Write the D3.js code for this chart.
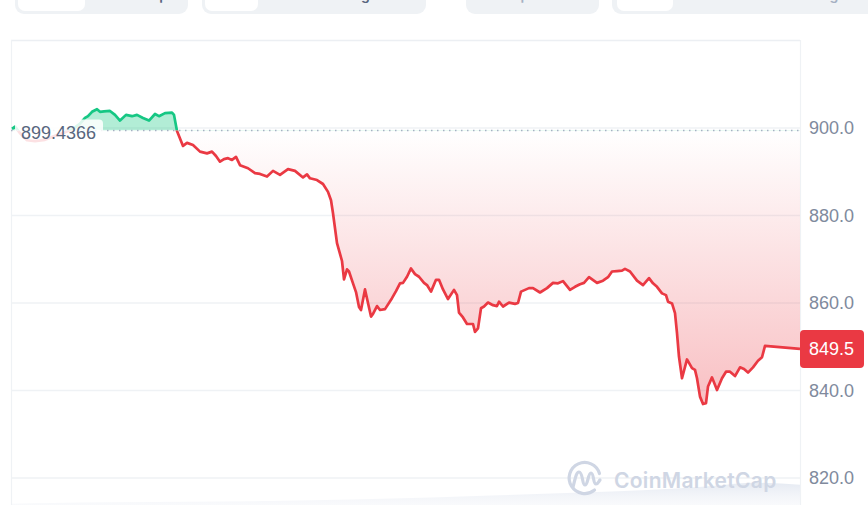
<!DOCTYPE html>
<html><head><meta charset="utf-8">
<script src="https://cdn.jsdelivr.net/npm/d3@7"></script>
<style>
html,body{margin:0;padding:0;background:#fff;overflow:hidden}
svg{display:block}
</style>
</head><body>
<svg id="c" width="868" height="505"></svg>
<script>
// ---- data ----
const steps = [
  0,3,8,15,23,33,43,53,61,68,
  73,76,80,85,88,92,98,103,108,114,
  120,125,131,137,143,147,153,160,162,165,
  171,175,181,188,195,200,204,208,212,216,
  220,224,228,236,243,248,255,261,268,276,
  283,291,295,298,305,311,316,319,321,325,
  330,332,335,337,341,344,347,349,353,359,
  361,365,368,373,380,384,388,391,395,399,
  403,407,412,415,419,424,427,431,436,442,
  445,447,451,455,461,463,466,469,472,476,
  481,485,487,491,497,503,506,509,513,517,
  521,528,535,541,546,551,558,563,568,572,
  577,585,591,596,600,605,610,613,618,625,
  631,637,641,645,650,654,656,660,663,665,
  667,670,675,680,683,685,688,691,694,696,
  700,705,710,714,718,723,728,732,736,741,
  746,750,753,788
];
const prices = [
  899.8,900.3,898.8,897.2,897.0,897.3,898.2,899.0,899.8,901.0,
  902.3,902.7,903.7,904.3,903.7,903.8,903.9,903.0,901.7,903.0,
  902.7,903.0,902.3,901.7,903.2,902.7,903.4,903.5,903.0,899.3,
  895.9,896.6,896.1,894.6,894.2,894.6,893.6,892.3,892.9,893.1,
  892.7,893.4,891.5,890.8,889.7,889.5,888.9,890.2,889.3,890.6,
  890.2,888.7,889.4,888.5,888.1,887.2,885.4,883.5,880.5,873.7,
  869.6,865.4,867.7,867.2,864.5,862.5,859.1,858.4,863.1,856.9,
  857.5,859.3,858.4,858.6,861.1,862.7,864.5,864.6,866.0,867.9,
  866.6,866.0,864.6,864.1,862.6,865.3,865.3,863.1,860.9,863.0,
  861.8,857.8,856.7,855.2,855.2,853.4,854.2,858.8,859.2,860.1,
  859.5,859.3,860.3,859.2,860.1,859.8,860.0,862.6,863.0,863.4,
  863.4,862.4,863.4,864.6,864.5,865.0,863.0,863.7,864.3,864.6,
  865.9,864.6,865.1,865.9,867.2,867.3,867.4,867.8,867.2,865.1,
  864.1,865.7,864.5,863.7,862.2,861.8,860.3,859.9,857.7,853.1,
  847.7,842.8,847.1,845.1,844.7,842.8,838.6,836.9,837.1,840.9,
  843.0,840.1,842.8,844.3,844.3,843.3,845.3,844.9,844.1,845.3,
  846.8,847.6,850.2,849.5
];
const openPrice = 899.4366;
const lastPrice = 849.5;
const yTicks = [900, 880, 860, 840, 820];
const volSteps = [0, 40, 100, 180, 260, 340, 420, 480, 540, 600, 660, 700, 740, 788];
const volumes  = [2, 3, 4, 5, 6, 8, 11, 14, 17, 20, 24, 28, 33, 30];
const tabLabels = ["Market cap", "TradingView", "Compare", "Log"];

// ---- layout ----
const svg = d3.select("#c");
const W = 868, H = 505;
const plot = {left: 11, right: 800, top: 40, bottom: 505};
const x = d3.scaleLinear().domain([0, 788]).range([12, 800]);
const y = d3.scaleLinear().domain([820, 900]).range([478, 128]);
const RED = "#ea3943", GREEN = "#16c784";
const AXFONT = "'Liberation Sans', Arial, sans-serif";

// ---- top tab bar (cut off at the top edge, as in the reference) ----
const tabs = [
  {x0: 15, x1: 188, p0: 18, p1: 85, tx: 168, anchor: "end", col: "#58667e"},
  {x0: 202, x1: 426, p0: 205, p1: 258, tx: 318, anchor: "start", col: "#58667e"},
  {x0: 466, x1: 599, p0: null, p1: null, tx: 489, anchor: "start", col: "#a6b0c3"},
  {x0: 612, x1: 880, p0: 617, p1: 673, tx: 813, anchor: "start", col: "#a6b0c3"}
];
const tg = svg.append("g");
tabs.forEach((t, i) => {
  tg.append("rect").attr("x", t.x0).attr("y", -12).attr("width", t.x1 - t.x0).attr("height", 26)
    .attr("rx", 9).attr("fill", "#eff2f5");
  if (t.p0 !== null) {
    tg.append("rect").attr("x", t.p0).attr("y", -12).attr("width", t.p1 - t.p0).attr("height", 23)
      .attr("rx", 7).attr("fill", "#ffffff");
  }
  tg.append("text").attr("x", t.tx).attr("y", -0.5).attr("text-anchor", t.anchor)
    .attr("font-family", "Inter, sans-serif").attr("font-size", 14).attr("font-weight", 600)
    .attr("fill", t.col).text(tabLabels[i]);
});

// ---- plot frame and grid ----
const defs = svg.append("defs");
defs.append("clipPath").attr("id", "plotClip").append("rect")
  .attr("x", plot.left).attr("y", plot.top).attr("width", plot.right - plot.left).attr("height", plot.bottom - plot.top);
defs.append("clipPath").attr("id", "above").append("rect")
  .attr("x", 0).attr("y", 0).attr("width", W).attr("height", y(openPrice));
defs.append("clipPath").attr("id", "below").append("rect")
  .attr("x", 0).attr("y", y(openPrice)).attr("width", W).attr("height", H);

const redGrad = defs.append("linearGradient").attr("id", "redGrad")
  .attr("gradientUnits", "userSpaceOnUse").attr("x1", 0).attr("x2", 0)
  .attr("y1", y(openPrice)).attr("y2", y(d3.min(prices)));
redGrad.append("stop").attr("offset", 0).attr("stop-color", RED).attr("stop-opacity", 0.0);
redGrad.append("stop").attr("offset", 1).attr("stop-color", RED).attr("stop-opacity", 0.32);

const volGrad = defs.append("linearGradient").attr("id", "volGrad")
  .attr("x1", 0).attr("x2", 0).attr("y1", 0).attr("y2", 1);
volGrad.append("stop").attr("offset", 0).attr("stop-color", "#e3e8f1").attr("stop-opacity", 0.9);
volGrad.append("stop").attr("offset", 1).attr("stop-color", "#f3f5f9").attr("stop-opacity", 0.5);

svg.append("g").selectAll("line").data(yTicks).join("line")
  .attr("x1", plot.left).attr("x2", plot.right)
  .attr("y1", d => y(d)).attr("y2", d => y(d))
  .attr("stroke", "#eff2f5").attr("stroke-width", 1.5);

svg.append("line").attr("x1", plot.left).attr("x2", plot.right).attr("y1", plot.top + 0.5).attr("y2", plot.top + 0.5)
  .attr("stroke", "#eceff3").attr("stroke-width", 1.5);
svg.append("line").attr("x1", plot.left + 0.5).attr("x2", plot.left + 0.5).attr("y1", plot.top).attr("y2", H)
  .attr("stroke", "#eff2f5").attr("stroke-width", 1.2);
svg.append("line").attr("x1", plot.right + 0.5).attr("x2", plot.right + 0.5).attr("y1", plot.top).attr("y2", H)
  .attr("stroke", "#eff2f5").attr("stroke-width", 1.2);

// ---- volume (faint) ----
const vy = d3.scaleLinear().domain([0, 40]).range([H, 478]);
const cg = svg.append("g").attr("clip-path", "url(#plotClip)");
cg.append("path").datum(volSteps.map((s, i) => [s, volumes[i]]))
  .attr("d", d3.area().x(d => x(d[0])).y0(H).y1(d => vy(d[1])).curve(d3.curveMonotoneX))
  .attr("fill", "url(#volGrad)");

// ---- watermark ----
const wm = svg.append("g");
wm.append("path")
  .attr("d", "M594.5,490 A15.5,15.5 0 1 1 599.5,473.5")
  .attr("fill", "none").attr("stroke", "#cfd6e4").attr("stroke-width", 3.2).attr("stroke-linecap", "round");
wm.append("path")
  .attr("d", "M573,487 C575,480 576,472 579,472 C583,472 582,485 585,485 C588,485 588,473 591,473 C594,473 593,484 596,484 C598,484 599,481 600,480")
  .attr("fill", "none").attr("stroke", "#cfd6e4").attr("stroke-width", 3.2).attr("stroke-linejoin", "round").attr("stroke-linecap", "round");
wm.append("text").attr("x", 614).attr("y", 488)
  .attr("font-family", "Inter, sans-serif").attr("font-size", 21).attr("font-weight", 600)
  .attr("letter-spacing", 0.3)
  .attr("fill", "#cfd6e4").text("CoinMarketCap");

// ---- price areas & line ----
const pts = steps.map((s, i) => [s, prices[i]]);
const area = d3.area().x(d => x(d[0])).y0(y(openPrice)).y1(d => y(d[1]));
const line = d3.line().x(d => x(d[0])).y(d => y(d[1]));

cg.append("path").datum(pts).attr("d", area).attr("fill", GREEN).attr("fill-opacity", 0.33)
  .attr("clip-path", "url(#above)");
cg.append("path").datum(pts).attr("d", area).attr("fill", "url(#redGrad)")
  .attr("clip-path", "url(#below)");

// dotted open-price line
svg.append("line").attr("x1", plot.left).attr("x2", plot.right)
  .attr("y1", y(openPrice)).attr("y2", y(openPrice))
  .attr("stroke", "#a6b0c3").attr("stroke-width", 1.5).attr("stroke-dasharray", "1.5 4.5");

cg.append("path").datum(pts).attr("d", line).attr("fill", "none").attr("stroke", GREEN)
  .attr("stroke-width", 2.7).attr("stroke-linejoin", "round").attr("clip-path", "url(#above)");
cg.append("path").datum(pts).attr("d", line).attr("fill", "none").attr("stroke", RED)
  .attr("stroke-width", 2.7).attr("stroke-linejoin", "round").attr("clip-path", "url(#below)");

// open price label
const lbl = svg.append("g");
lbl.append("rect").attr("x", 15).attr("y", y(openPrice) - 11).attr("width", 88).attr("height", 24)
  .attr("rx", 4).attr("fill", "#ffffff").attr("fill-opacity", 0.85);
lbl.append("text").attr("x", 21).attr("y", y(openPrice) + 8.8)
  .attr("font-family", AXFONT).attr("font-size", 18).attr("fill", "#58667e")
  .text(d3.format(".4f")(openPrice));

// ---- right axis ----
const axis = d3.axisRight(y).tickValues(yTicks).tickSize(0).tickPadding(9).tickFormat(d3.format(".1f"));
const ag = svg.append("g").attr("transform", `translate(${plot.right},0)`).call(axis);
ag.select(".domain").remove();
ag.selectAll("text").attr("font-family", AXFONT).attr("font-size", 18).attr("fill", "#808a9d");

// last price badge
const badge = svg.append("g");
badge.append("rect").attr("x", plot.right).attr("y", y(lastPrice) - 19).attr("width", 64).attr("height", 38)
  .attr("rx", 4).attr("fill", RED);
badge.append("text").attr("x", plot.right + 9).attr("y", y(lastPrice)).attr("dy", "0.35em")
  .attr("font-family", AXFONT).attr("font-size", 18).attr("fill", "#ffffff")
  .text(d3.format(".1f")(lastPrice));
</script>
</body></html>
